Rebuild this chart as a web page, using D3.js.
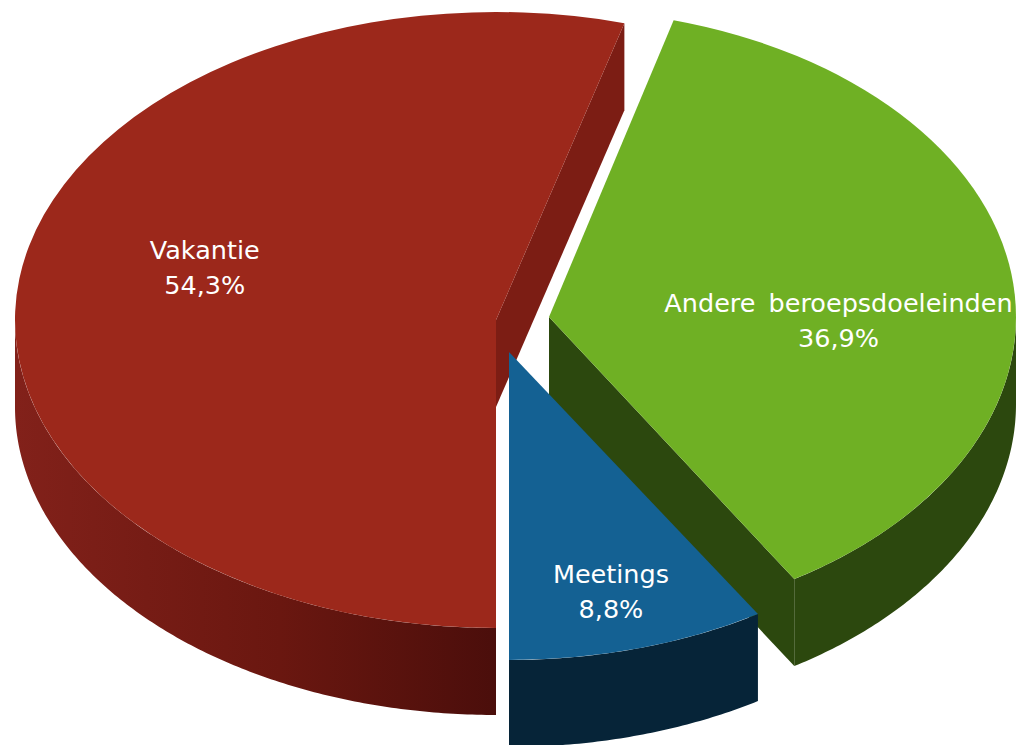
<!DOCTYPE html>
<html lang="nl">
<head>
<meta charset="UTF-8">
<title>Reisdoel</title>
<script src="https://d3js.org/d3.v7.min.js"></script>
<style>
  body { margin: 0; background: #fff; }
  svg { display: block; }
  .lbl { font-family: "DejaVu Sans", Verdana, sans-serif; font-size: 25.5px; fill: #fff; word-spacing: 5px; }
</style>
</head>
<body>
<div id="chart"></div>
<script>
// data
var categories = ["Vakantie", "Andere beroepsdoeleinden", "Meetings"];
var shares = [54.3, 36.9, 8.8];
var shareLabels = ["54,3%", "36,9%", "8,8%"];

// colours: top face, side wall
var topColors = ["#9c281b", "#6fb024", "#146193"];
var sideColors = ["#7c1d14", "#2c480e", "#062438"];

// layout (slightly different width per slice fakes the perspective)
var width = 1018, height = 745;
var rxs = [481, 467, 474], ry = 308, depth = 87;
var cx = 522, cy = 322;
var explode = [[-26, -2], [27, -5], [-13, 30]];       // pull-out of each slice
var labelPolar = [[0.63, 286], [0.62, 91], [0.805, 164.5]]; // radius fraction, degrees

var svg = d3.select("#chart").append("svg")
  .attr("width", width)
  .attr("height", height);

var defs = svg.append("defs");
var redGrad = defs.append("linearGradient")
  .attr("id", "rimRed")
  .attr("gradientUnits", "userSpaceOnUse")
  .attr("x1", 15).attr("y1", 0).attr("x2", 496).attr("y2", 0);
redGrad.append("stop").attr("offset", "0%").attr("stop-color", "#82211a");
redGrad.append("stop").attr("offset", "55%").attr("stop-color", "#6a1710");
redGrad.append("stop").attr("offset", "100%").attr("stop-color", "#4b0e0b");

var rimFill = ["url(#rimRed)", sideColors[1], sideColors[2]];

var pie = d3.pie().sort(null)
  .startAngle(Math.PI).endAngle(3 * Math.PI)(shares);

function pt(o, rx, a, r) {
  r = r === undefined ? 1 : r;
  return [o[0] + r * rx * Math.sin(a), o[1] - r * ry * Math.cos(a)];
}
function down(p) { return [p[0], p[1] + depth]; }

var line = d3.line();

function rimPath(o, rx, s, e) {
  var n = Math.max(4, Math.ceil((e - s) / 0.01)), top = [], bot = [];
  for (var i = 0; i <= n; i++) {
    var a = s + (e - s) * i / n;
    top.push(pt(o, rx, a));
    bot.push(down(pt(o, rx, a)));
  }
  return line(top.concat(bot.reverse())) + "Z";
}

pie.forEach(function(d, i) {
  var o = [cx + explode[i][0], cy + explode[i][1]];
  var rx = rxs[i];
  var g = svg.append("g");

  // radial walls that face the viewer
  [[d.startAngle, d.startAngle - Math.PI / 2], [d.endAngle, d.endAngle + Math.PI / 2]]
    .forEach(function(w) {
      if (-Math.cos(w[1]) > 0.01) {
        var p = pt(o, rx, w[0]);
        g.append("path")
          .attr("d", line([o, p, down(p), down(o)]) + "Z")
          .attr("fill", sideColors[i]);
      }
    });

  // outer rim, front half only
  [[Math.PI / 2, 3 * Math.PI / 2], [5 * Math.PI / 2, 7 * Math.PI / 2]].forEach(function(f) {
    var s = Math.max(d.startAngle, f[0]), e = Math.min(d.endAngle, f[1]);
    if (e > s) {
      g.append("path")
        .attr("d", rimPath(o, rx, s, e))
        .attr("fill", rimFill[i]);
    }
  });

  // top face
  var arc = d3.arc().innerRadius(0).outerRadius(rx);
  g.append("path")
    .attr("transform", "translate(" + o[0] + "," + o[1] + ") scale(1," + (ry / rx) + ")")
    .attr("d", arc(d))
    .attr("fill", topColors[i]);
});

// labels
pie.forEach(function(d, i) {
  var o = [cx + explode[i][0], cy + explode[i][1]];
  var c = pt(o, rxs[i], labelPolar[i][1] * Math.PI / 180, labelPolar[i][0]);
  var t = svg.append("text")
    .attr("class", "lbl")
    .attr("text-anchor", "middle");
  t.append("tspan").attr("x", c[0]).attr("y", c[1] - 8).text(categories[i]);
  t.append("tspan").attr("x", c[0]).attr("y", c[1] + 27).text(shareLabels[i]);
});
</script>
</body>
</html>
